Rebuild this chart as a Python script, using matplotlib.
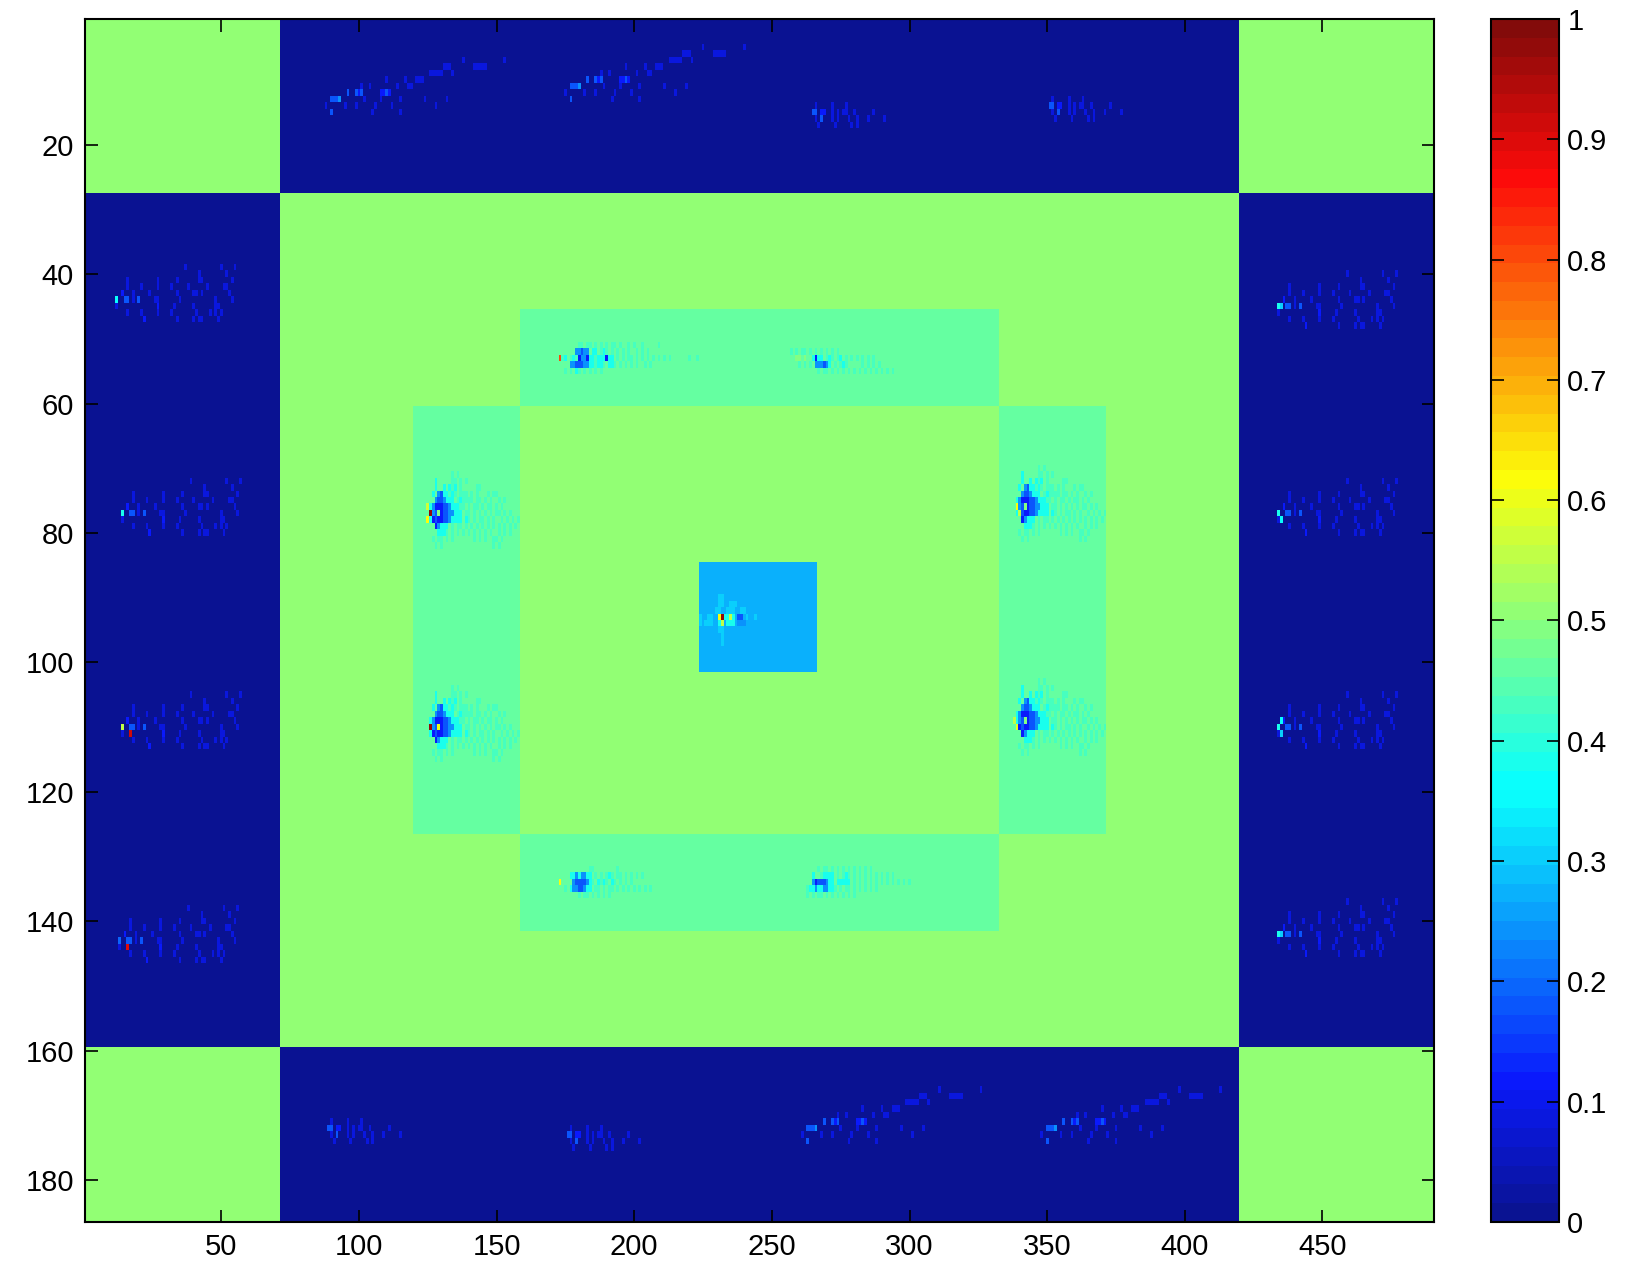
import numpy as np
import matplotlib
matplotlib.use("Agg")
import matplotlib.pyplot as plt
from matplotlib.colors import ListedColormap

plt.rcParams['font.family'] = ['Liberation Sans', 'DejaVu Sans']

# image size (rows x cols)
n_rows = 186
n_cols = 490
background = 0.01

# flat regions: (first col, last col, first row, last row, value), 1-based inclusive
region_c0 = [72, 1, 420, 1, 420, 159, 159, 120, 333, 224]
region_c1 = [419, 71, 490, 71, 490, 332, 332, 158, 371, 266]
region_r0 = [28, 1, 1, 160, 160, 46, 127, 61, 61, 85]
region_r1 = [159, 27, 27, 186, 186, 60, 141, 126, 126, 101]
region_val = [0.51, 0.51, 0.51, 0.51, 0.51, 0.46, 0.46, 0.46, 0.46, 0.27]

# speckle levels
levels = {'e': 0.08, 'd': 0.11, 'b': 0.18, 'l': 0.24, 'k': 0.31, 'c': 0.38,
          'f': 0.43, 'g': 0.49, 'w': 0.56}

# speckle patterns ('.' keeps the background)
templates = {
    'blob': [
        "..........f.f......................",
        "....c.....ff.f.f...................",
        "....c..c.cfc.f.....ff..............",
        "...c.lbccfcf.fff.f.f...f.ff........",
        "....lbblccc.fcffff.ff.f.f..f.f.....",
        "..cldddbblcccff.f.ff.f.ff.f.f......",
        "..clbgdbbllccc.ff.f.f.f.f.ff.f.f...",
        "..cdbddbblcccc.cf.f.ff.f.f..f.f.f.f",
        "....dlccc.f.ff.f.f.f.f.f.f.f.f.f.f.",
        ".....cccf.f.f.f.f.f.f.f.f..f.f.f...",
        "...f.ff.f.f.......f.f.f..ff.f......",
        "....f.f..................f.f.......",
    ],
    'top1': [
        ".......ff.ff.f.f.f.ff.f..f.f..f.....f",
        "......llbll.cc.fcf.f.f.f.f..f.f.f..",
        ".fc.fcfdlldccfcccdcc.f.f.ff.f.f.f.f.f.f.f......f..f",
        "....llbbbllccfccf.ccf.f.f.f.f..f.f",
        "..f.f.cf.f.f.f.f",
    ],
    'top2': [
        "f.f.ff.f.f.f.f.f.f",
        "..gg.g..cdcc.fcf.fc.f.f.f.f.f.f.",
        "...f.f.f.lllblc.f.fcf.....f.f.f.f",
        "..........f.ff.f.f.f.f.f.f.f.f.f.f.f.f",
    ],
    'bot1': [
        "...........ff........f",
        "....cclcllcc.f.f.fcf.ff.f.f.f.f",
        ".....lbbbblcf.cfcf.cf.f.f.f",
        "..f.cllbblcc.ff.f.ff.f.f.f.f.f.f.f",
        ".......f.ff.f.f.f.f",
    ],
    'bot2': [
        ".....f.ff.f.f.f.f.f.f.f.f",
        "...c..fcccc.f.fcf.f.f.f.f.f.f.f.f",
        "...ldbbblcc.ccccc.f.f.f.f.f.f.f.f.f.f.f",
        ".fcclccllccf.f.ff.f.f.f.f.f",
        ".f.f.ff.f.f.f.f.f.f",
    ],
    'centre': [
        ".......kk",
        ".......kk..kkk",
        "......kk..kkk..kk",
        "k..kk....ccwc.bb.k..k",
        "k.kkk..cw.ccc.lll",
        ".......kk",
        "........k",
        "........k",
    ],
    'side': [
        "..........................e............e....e",
        "...............................e.........e",
        ".....e..........e......e.......ee..........e",
        ".....e....e.....e....e.....e......e.....ee",
        "...d...e.....e.........e.....ee.e.........e",
        ".c..bb.e.b.....ee.......e............e.....e",
        ".e..............d.....e......e.......ee",
        ".....e....e.....e....e........e....e.e.e",
        "...........d...........e.....e.ee.....e",
    ],
    'rise': [
        "..................................................e..............e",
        "...........................................eee........eeeee",
        "......................................eeeee...e",
        "......................e......e...eee",
        ".............e..e.........e...ee",
        "........b..bdb......ddbd",
        "..bbbl........e.....e......e........e.......e",
        "e......e...e......e.....e...............e",
        "..b..............e.........e",
    ],
    'flat': [
        "..e.....e....e",
        ".bb.dd..e.e.ee..e......e",
        "..e.b...e.e...e..e...e.....e",
        "...e.....e.....e.e",
    ],
}

# where each pattern sits: top-left (col, row)
place_name = ['blob', 'blob', 'blob', 'blob', 'top1', 'top2', 'bot1', 'bot2', 'centre',
              'side', 'side', 'side', 'side', 'side', 'side', 'side', 'side',
              'rise', 'rise', 'flat', 'flat', 'flat', 'flat', 'rise', 'rise']
place_col = [124, 124, 337, 337, 173, 257, 173, 262, 224,
             11, 13, 13, 12, 433, 433, 433, 433,
             88, 175, 264, 350, 88, 175, 261, 348]
place_row = [71, 104, 70, 103, 51, 52, 132, 132, 90,
             39, 72, 105, 138, 40, 72, 105, 137,
             7, 5, 14, 13, 171, 172, 166, 166]

# single bright pixels (col, row, value)
hot_col = [126, 125, 125, 126, 129, 339, 340, 339, 338, 173, 173, 232, 231,
           14, 14, 17, 12, 16, 13, 435, 435, 435, 435, 435]
hot_row = [77, 76, 78, 110, 110, 76, 77, 110, 109, 53, 134, 93, 93,
           77, 110, 111, 44, 144, 143, 45, 78, 109, 111, 142]
hot_val = [0.97, 0.57, 0.62, 0.97, 0.6, 0.62, 0.56, 0.6, 0.56, 0.8, 0.62, 0.97, 0.62,
           0.38, 0.56, 0.92, 0.36, 0.9, 0.2, 0.3, 0.35, 0.35, 0.3, 0.3]

cbar_ticks = [0, 0.1, 0.2, 0.3, 0.4, 0.5, 0.6, 0.7, 0.8, 0.9, 1]
cbar_labels = ['0', '0.1', '0.2', '0.3', '0.4', '0.5', '0.6', '0.7', '0.8', '0.9', '1']
x_ticks = [50, 100, 150, 200, 250, 300, 350, 400, 450]
y_ticks = [20, 40, 60, 80, 100, 120, 140, 160, 180]

# build the image
img = np.full((n_rows, n_cols), background)
for c0, c1, r0, r1, v in zip(region_c0, region_c1, region_r0, region_r1, region_val):
    img[r0 - 1:r1, c0 - 1:c1] = v
for name, col, row in zip(place_name, place_col, place_row):
    for dy, line in enumerate(templates[name]):
        for dx, ch in enumerate(line):
            if ch != '.':
                img[row - 1 + dy, col - 1 + dx] = levels[ch]
for col, row, v in zip(hot_col, hot_row, hot_val):
    img[row - 1, col - 1] = v

# matlab style jet(64)
m = 64
n = m // 4
u = np.concatenate([np.arange(1, n + 1) / n, np.ones(n - 1), np.arange(n, 0, -1) / n])
g = n // 2 + np.arange(1, len(u) + 1)
r = g + n
b = g - n
J = np.zeros((m, 3))
r = r[r <= m]
b = b[b >= 1]
J[r - 1, 0] = u[:len(r)]
J[g - 1, 1] = u
J[b - 1, 2] = u[len(u) - len(b):]
# the screenshot colours are a bit softer than raw jet
J = np.clip(0.04 + 0.95 * J, 0, 1)
J[:, 1] = np.clip(J[:, 1] + 0.06 * J[:, 2], 0, 1)
jet64 = ListedColormap(J)

fig = plt.figure(figsize=(16.26, 12.71), dpi=100)
ax = fig.add_axes([0.0523, 0.0386, 0.8296, 0.9465])
im = ax.imshow(img, cmap=jet64, vmin=0, vmax=1, extent=(0.5, n_cols + 0.5, n_rows + 0.5, 0.5),
               aspect='auto', interpolation='nearest')
ax.set_xticks(x_ticks)
ax.set_yticks(y_ticks)
ax.tick_params(direction='in', top=True, right=True, length=9, width=1.2,
               labelsize=21, pad=8)
for s in ax.spines.values():
    s.set_linewidth(1.5)

cax = fig.add_axes([0.917, 0.0386, 0.0418, 0.9465])
cb = fig.colorbar(im, cax=cax, ticks=cbar_ticks)
cb.ax.set_yticklabels(cbar_labels)
cb.outline.set_linewidth(1.5)
cax.tick_params(direction='in', left=True, right=True, length=9, width=1.2,
                labelsize=21, pad=6)

plt.savefig("out.png", dpi=100)
plt.close()
